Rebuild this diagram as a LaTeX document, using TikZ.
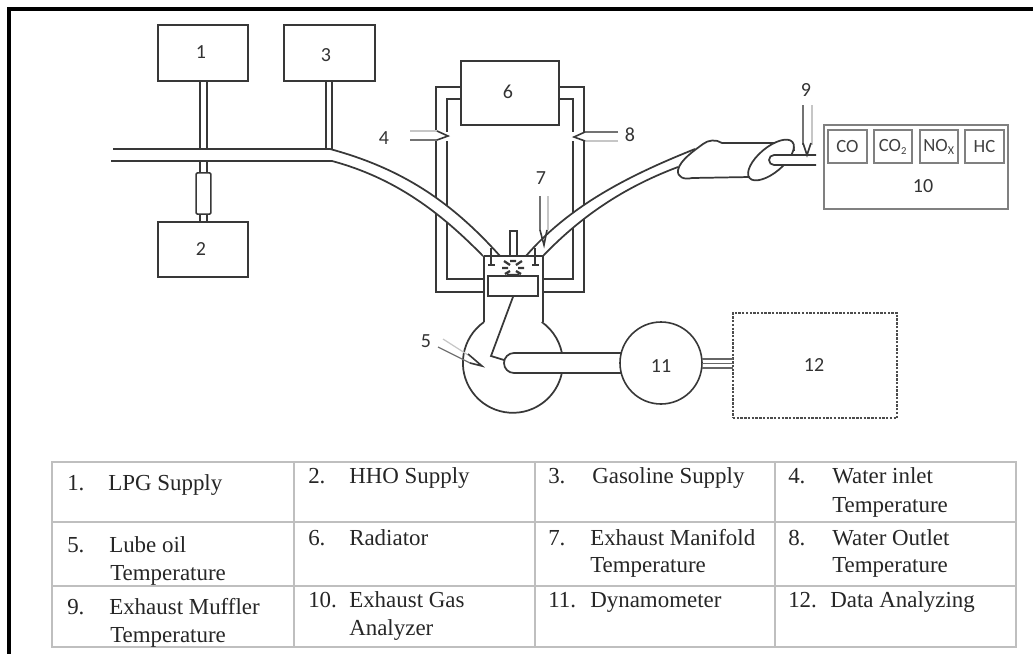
\documentclass[tikz,border=0pt]{standalone}
\usepackage{fontspec}
\setmainfont{Liberation Serif}
\newfontfamily\lab{Carlito}
\definecolor{ln}{gray}{0.22}
\definecolor{tb}{gray}{0.75}
\definecolor{sn}{gray}{0.45}
\newcommand{\tabtext}[4]{\node[tabt] (#1) at (#2,#3) {#4};}
\begin{document}
\begin{tikzpicture}[x=0.75pt,y=-0.75pt,
  wire/.style={draw=ln,line width=1.3pt},
  bx/.style={draw=ln,line width=1.3pt,fill=white},
  gbx/.style={draw=gray,line width=1.2pt,fill=white},
  sense/.style={draw=sn,line width=0.9pt},
  sensel/.style={draw=gray!45,line width=0.9pt},
  tip/.style={draw=ln,line width=1.2pt},
  num/.style={font=\lab\fontsize{15}{15}\selectfont,text=black!80,inner sep=0pt},
  gas/.style={font=\lab\fontsize{14}{14}\selectfont,text=black!75,inner sep=0pt},
  tabt/.style={anchor=base west,inner sep=0pt,font=\fontsize{17.2}{17.2}\selectfont,text=black!85},
  grid/.style={draw=tb,line width=1.1pt}]
\useasboundingbox (0,0) rectangle (1033,654);
\fill[white] (0,0) rectangle (1033,654);
% frame
\draw[black,line width=3pt] (9,654) -- (9,9) -- (1033,9);
% boxes 1,2,3
\node[bx,minimum width=67.5pt,minimum height=42pt,inner sep=0pt] (b1) at (203,53) {};
\node[num] (l1) at (201,52) {1};
\node[bx,minimum width=68pt,minimum height=42pt,inner sep=0pt] (b3) at (329.5,53) {};
\node[num] (l3) at (326,55) {3};
\node[bx,minimum width=67.5pt,minimum height=41pt,inner sep=0pt] (b2) at (203,249.5) {};
\node[num] (l2) at (201,249) {2};
% stems
\draw[wire] (200,81) -- (200,149) (207,81) -- (207,149);
\draw[wire] (326,81) -- (326,149) (332,81) -- (332,149);
\draw[wire] (200,161) -- (200,173) (207,161) -- (207,173);
\draw[wire] (200,214) -- (200,222) (207,214) -- (207,222);
\node[draw=ln,line width=1.2pt,fill=white,rounded corners=1pt,minimum width=11pt,minimum height=31pt,inner sep=0pt] (hho) at (203.5,193.5) {};
% water loop
\draw[wire] (461,87) -- (436,87) -- (436,292) -- (484,292);
\draw[wire] (461,99) -- (447,99) -- (447,279) -- (484,279);
\draw[wire] (559,87) -- (584,87) -- (584,292) -- (543,292);
\draw[wire] (559,99) -- (573,99) -- (573,279) -- (543,279);
\fill[white] (430,132) rectangle (452,141);
\fill[white] (568,132) rectangle (590,141);
\node[bx,minimum width=73.5pt,minimum height=48pt,inner sep=0pt] (b6) at (510,93) {};
\node[num] (l6) at (508,92) {6};
% intake pipe
\fill[white] (330,149) .. controls (400,168) and (450,200) .. (500,256) -- (483,256) .. controls (440,212) and (395,178) .. (332,161) -- cycle;
\draw[wire] (113,149) -- (330,149) .. controls (400,168) and (450,200) .. (500,256);
\draw[wire] (111,161) -- (332,161) .. controls (395,178) and (440,212) .. (483,256);
% exhaust pipe
\fill[white] (526,256) .. controls (570,205) and (630,175) .. (695,149) -- (680,165) .. controls (630,185) and (585,212) .. (543,256) -- cycle;
\draw[wire] (526,256) .. controls (570,205) and (630,175) .. (695,149);
\draw[wire] (543,256) .. controls (585,212) and (630,185) .. (678,167);
% muffler
\fill[white] (692,178) .. controls (684,180) and (677,177) .. (678,170) .. controls (680,160) and (695,150) .. (703,144) .. controls (708,140) and (716,139) .. (722,143) -- (782,143) -- (750,177) -- cycle;
\draw[wire] (750,177) -- (692,178) .. controls (684,180) and (677,177) .. (678,170) .. controls (680,160) and (695,150) .. (703,144) .. controls (708,140) and (716,139) .. (722,143) -- (782,143);
\draw[wire] (780,143) .. controls (788,139) and (794,142) .. (794,151);
\draw[wire,fill=white,rotate around={40:(771,160)}] (771,160) ellipse (28 and 12.5);
\draw[wire,fill=white] (816,155) -- (774,155) arc[start angle=270,end angle=90,radius=5] -- (816,165);
% engine
\draw[wire] (484,256) -- (543,256) -- (543,322);
\draw[wire] (484,256) -- (484,322);
\draw[wire] (484,322) arc[start angle=234.7,end angle=-54.7,radius=50];
\node[bx,minimum width=37.5pt,minimum height=15pt,inner sep=0pt] (pist) at (513,286) {};
\coordinate (rodm) at (491,356);
\draw[wire] (pist.south) -- (rodm) -- (504,360);
% plug and valves
\node[draw=ln,line width=1.2pt,fill=white,minimum width=5pt,minimum height=19pt,inner sep=0pt] (plug) at (513.5,243.5) {};
\draw[wire] (491,248) -- (491,265) (488,265) -- (495,265) (535,248) -- (535,265) (532,265) -- (539,265);
\coordinate (sp) at (513,268);
\draw[ln,line width=1.7pt] (sp) +(-9,-7) -- +(-3,-3) (sp) +(9,-7) -- +(3,-3) (sp) +(-11,0) -- +(-5,0) (sp) +(11,0) -- +(5,0) (sp) +(-8,6) -- +(-3,3) (sp) +(8,6) -- +(3,3) (sp) +(-3,-7) -- +(3,-7) (sp) +(-6,7) -- +(6,7);
% crank pipe
\draw[wire,fill=white] (622,353) -- (514,353) arc[start angle=270,end angle=90,radius=10] -- (622,373);
\node[draw=ln,line width=1.2pt,circle,fill=white,minimum size=61.5pt,inner sep=0pt] (dyn) at (661,363) {};
\node[num] (l11) at (661,366) {11};
% box 12
\node[draw=black!70,line width=1.8pt,densely dotted,minimum width=123pt,minimum height=79pt,inner sep=0pt] (b12) at (815,365.5) {};
\node[num] (l12) at (814,365) {12};
\draw[draw=black!60,line width=1.5pt] (702,359) -- (733,359) (702,368) -- (733,368);
\draw[draw=black!60,line width=0.5pt] (702,363.5) -- (733,363.5);
% sensors
\draw[sensel] (410,131) -- (437,131); \draw[sense] (410,140) -- (437,140);
\draw[tip] (437,131) -- (448,136) -- (437,140);
\node[num] (l4) at (384,138) {4};
\draw[sense] (618,132) -- (585,132); \draw[sensel] (618,141) -- (585,141);
\draw[tip] (585,132) -- (574,137) -- (585,141);
\node[num] (l8) at (630,135) {8};
\draw[sense] (540,196) -- (540,230); \draw[sensel] (548,196) -- (548,230);
\draw[tip] (540,230) -- (544,245) -- (547,230);
\node[num] (l7) at (541,178) {7};
\draw[sense] (803,105) -- (803,145); \draw[sensel] (812,105) -- (812,145);
\draw[tip] (803,143) -- (807,155) -- (811,143);
\node[num] (l9) at (806,90) {9};
\draw[sensel] (443,339) -- (468,355); \draw[sense] (438,347) -- (470,363);
\draw[tip] (468,354) -- (482,366) -- (470,363);
\node[num] (l5) at (426,341) {5};
% analyser
\node[gbx,minimum width=138pt,minimum height=63pt,inner sep=0pt] (b10) at (916,167) {};
\node[num] (l10) at (923,186) {10};
\node[gbx,minimum width=29pt,minimum height=24.5pt,inner sep=0pt,gas] (co) at (847.5,146.5) {CO};
\node[gbx,minimum width=28.5pt,minimum height=24.5pt,inner sep=0pt,gas] (co2) at (893,146.5) {CO\textsubscript{\fontsize{8}{8}\selectfont 2}};
\node[gbx,minimum width=28.5pt,minimum height=24.5pt,inner sep=0pt,gas] (nox) at (939,146.5) {NO\textsubscript{\fontsize{9}{9}\selectfont X}};
\node[gbx,minimum width=29pt,minimum height=24.5pt,inner sep=0pt,gas] (hc) at (984.5,146.5) {HC};
% table
\draw[grid] (52,462) rectangle (1016,647);
\draw[grid] (52,522) -- (1016,522) (52,586) -- (1016,586);
\draw[grid] (294,462) -- (294,647) (535,462) -- (535,647) (775,462) -- (775,647);
\tabtext{t1a}{67}{490}{1.}\tabtext{t1b}{108}{490}{LPG Supply}
\tabtext{t2a}{308}{483}{2.}\tabtext{t2b}{349}{483}{HHO Supply}
\tabtext{t3a}{548}{483}{3.}\tabtext{t3b}{592}{483}{Gasoline Supply}
\tabtext{t4a}{788}{483}{4.}\tabtext{t4b}{832}{483}{Water inlet}\tabtext{t4c}{832}{512}{Temperature}
\tabtext{t5a}{67}{552}{5.}\tabtext{t5b}{109}{552}{Lube oil}\tabtext{t5c}{110}{580}{Temperature}
\tabtext{t6a}{308}{545}{6.}\tabtext{t6b}{349}{545}{Radiator}
\tabtext{t7a}{548}{545}{7.}\tabtext{t7b}{590}{545}{Exhaust Manifold}\tabtext{t7c}{590}{572}{Temperature}
\tabtext{t8a}{788}{545}{8.}\tabtext{t8b}{832}{545}{Water Outlet}\tabtext{t8c}{832}{572}{Temperature}
\tabtext{t9a}{67}{614}{9.}\tabtext{t9b}{109}{614}{Exhaust Muffler}\tabtext{t9c}{110}{642}{Temperature}
\tabtext{t10a}{308}{607}{10.}\tabtext{t10b}{349}{607}{Exhaust Gas}\tabtext{t10c}{349}{635}{Analyzer}
\tabtext{t11a}{548}{607}{11.}\tabtext{t11b}{590}{607}{Dynamometer}
\tabtext{t12a}{788}{607}{12.}\tabtext{t12b}{830}{607}{Data Analyzing}
\end{tikzpicture}
\end{document}
